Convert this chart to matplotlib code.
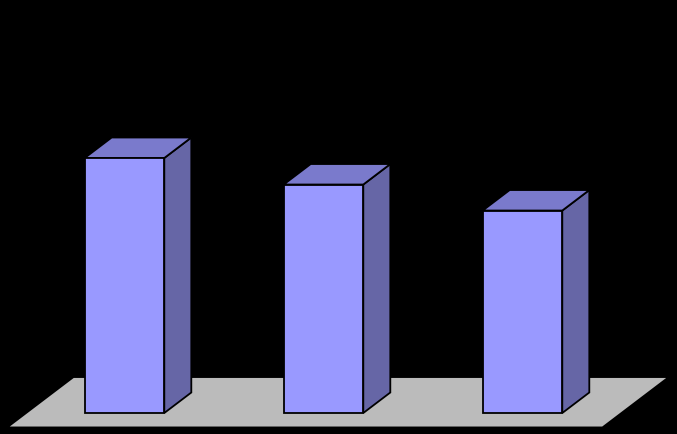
import matplotlib
matplotlib.use("Agg")
import matplotlib.pyplot as plt
from matplotlib.patches import Polygon

# data
categories = ["A", "B", "C"]
values = [5.0, 4.48, 3.97]

# oblique 3d look: how far one unit of depth shifts things on screen
bar_width = 0.4
depth_dx = 27 / 199
depth_dy = 20.5 / 51
floor_front = -0.66
floor_back = 1.71

front_color = "#9999FF"
top_color = "#7A7ACC"
side_color = "#6666A6"
floor_color = "#BBBBBB"

fig = plt.figure(figsize=(6.77, 4.35), dpi=100, facecolor="black")
ax = fig.add_axes([0, 0, 1, 1])
ax.set_facecolor("black")
ax.set_xlim(-124.5 / 199, (677 - 124.5) / 199)
ax.set_ylim(-21 / 51, (435 - 21) / 51)
ax.axis("off")


def shift(x, y, d):
    return (x + d * depth_dx, y + d * depth_dy)


# floor
x0, x1 = -0.487, 2.49
floor = [shift(x0, 0, floor_front), shift(x1, 0, floor_front),
         shift(x1, 0, floor_back), shift(x0, 0, floor_back)]
ax.add_patch(Polygon(floor, closed=True, facecolor=floor_color,
                     edgecolor="none", zorder=1))

# bars
xs = list(range(len(categories)))
ax.bar(xs, values, width=bar_width, color=front_color,
       edgecolor="black", linewidth=1.3, zorder=3)
for x, v in zip(xs, values):
    left = x - bar_width / 2
    right = x + bar_width / 2
    side = [(right, 0), shift(right, 0, 1), shift(right, v, 1), (right, v)]
    top = [(left, v), (right, v), shift(right, v, 1), shift(left, v, 1)]
    ax.add_patch(Polygon(side, closed=True, facecolor=side_color,
                         edgecolor="black", linewidth=1.3, zorder=2))
    ax.add_patch(Polygon(top, closed=True, facecolor=top_color,
                         edgecolor="black", linewidth=1.3, zorder=2))

plt.savefig("out.png", dpi=100, facecolor="black")
